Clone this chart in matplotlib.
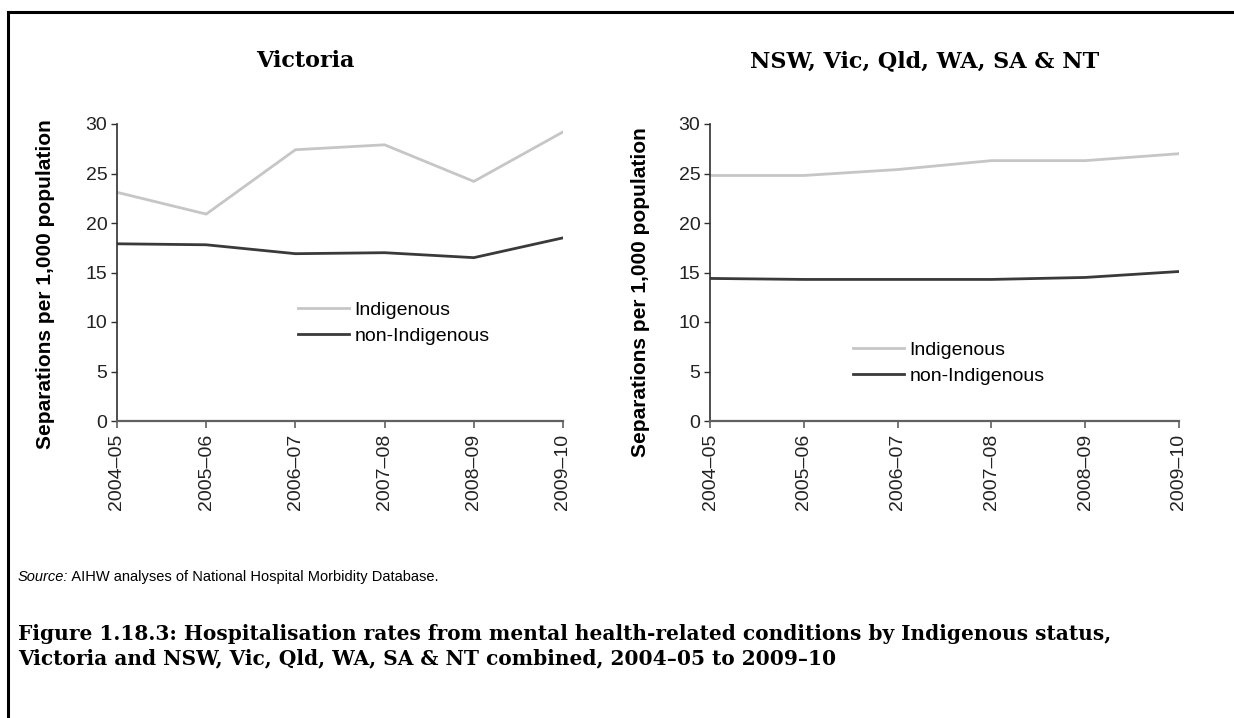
import matplotlib
matplotlib.use("Agg")
import matplotlib.pyplot as plt
from matplotlib.lines import Line2D

# Financial years on the x axis
years = ["2004–05", "2005–06", "2006–07", "2007–08", "2008–09", "2009–10"]

# Separations per 1,000 population, Victoria
vic_indigenous = [23.1, 20.9, 27.4, 27.9, 24.2, 29.2]
vic_non_indigenous = [17.9, 17.8, 16.9, 17.0, 16.5, 18.5]

# Separations per 1,000 population, NSW, Vic, Qld, WA, SA & NT combined
comb_indigenous = [24.8, 24.8, 25.4, 26.3, 26.3, 27.0]
comb_non_indigenous = [14.4, 14.3, 14.3, 14.3, 14.5, 15.1]

sans = ["Liberation Sans", "DejaVu Sans"]
serif = ["DejaVu Serif"]
plt.rcParams["font.family"] = sans

W, H = 1234, 718
fig = plt.figure(figsize=(W / 100, H / 100), dpi=100)


def fx(px):
    return px / W


def fy(py):
    return 1 - py / H


light = "#c6c6c6"
dark = "#3a3a3a"


def draw_panel(rect, indig, non_indig, title, title_xy, ylabel_xy, legend_xy):
    ax = fig.add_axes(rect)
    x = range(len(years))
    ax.plot(x, indig, color=light, lw=2.0, label="Indigenous")
    ax.plot(x, non_indig, color=dark, lw=2.0, label="non-Indigenous")
    ax.set_xlim(0, len(years) - 1)
    ax.set_ylim(0, 30)
    ax.set_yticks(range(0, 31, 5))
    ax.set_xticks(list(x))
    ax.set_xticklabels(years, rotation=90)
    for s in ["top", "right"]:
        ax.spines[s].set_visible(False)
    ax.spines["left"].set_color("#303030")
    ax.spines["bottom"].set_color("#606060")
    ax.spines["left"].set_linewidth(1.2)
    ax.spines["bottom"].set_linewidth(1.6)
    ax.tick_params(axis="y", length=4, width=1.0, color="#303030",
                   labelsize=14, labelcolor="#222222", pad=3)
    ax.tick_params(axis="x", length=5, width=1.2, color="#606060",
                   labelsize=14, labelcolor="#222222", pad=4)
    fig.text(fx(title_xy[0]), fy(title_xy[1]), title, family=serif,
             fontweight="bold", fontsize=16, ha="center", va="center")
    fig.text(fx(ylabel_xy[0]), fy(ylabel_xy[1]), "Separations per 1,000 population",
             fontweight="bold", fontsize=15, rotation=90, ha="center", va="center")
    ax.legend(loc="center left", bbox_to_anchor=(fx(legend_xy[0]), fy(legend_xy[1])),
              bbox_transform=fig.transFigure, frameon=False, fontsize=14,
              handlelength=2.6, handletextpad=0.3, labelspacing=0.45,
              borderpad=0, borderaxespad=0)
    return ax


ax1 = draw_panel([fx(117), fy(421), fx(563 - 117), 297 / H],
                 vic_indigenous, vic_non_indigenous, "Victoria",
                 (305, 61), (46, 284), (298, 323))
ax2 = draw_panel([fx(710), fy(421), fx(1179 - 710), 297 / H],
                 comb_indigenous, comb_non_indigenous, "NSW, Vic, Qld, WA, SA & NT",
                 (925, 61), (641, 292), (853, 363))

# Box around the figure
fig.add_artist(Line2D([fx(8), fx(8)], [0, fy(12)], color="black", lw=2.2,
                      transform=fig.transFigure))
fig.add_artist(Line2D([fx(8), 1], [fy(12), fy(12)], color="black", lw=2.2,
                      transform=fig.transFigure))

# Source line: italic label followed by plain text
src = fig.text(fx(18), fy(577), "Source:", style="italic", fontsize=10.5,
               ha="left", va="center")
ax1.annotate(" AIHW analyses of National Hospital Morbidity Database.",
             xy=(1, 0.5), xycoords=src, va="center", ha="left", fontsize=10.5)

caption = ("Figure 1.18.3: Hospitalisation rates from mental health-related conditions by Indigenous status,\n"
           "Victoria and NSW, Vic, Qld, WA, SA & NT combined, 2004–05 to 2009–10")
fig.text(fx(18), fy(646), caption, family=serif, fontweight="bold", fontsize=14.5,
         ha="left", va="center", linespacing=1.3)

fig.savefig("out.png", dpi=100)
